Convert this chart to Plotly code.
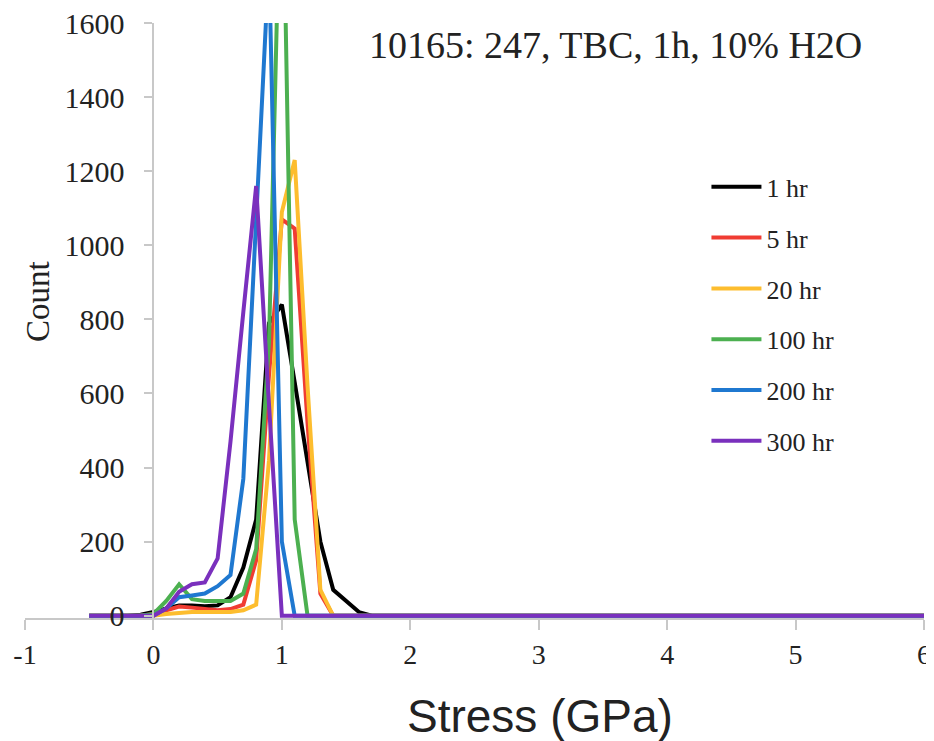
import plotly.graph_objects as go

# Bins de tensão (GPa); o último ponto fecha a linha em zero até 6 GPa
stress = [-0.5, -0.4, -0.3, -0.2, -0.1, 0.0, 0.1, 0.2, 0.3, 0.4, 0.5, 0.6,
          0.7, 0.8, 0.9, 1.0, 1.1, 1.2, 1.3, 1.4, 1.5, 1.6, 1.7, 6.0]

count_1hr = [0, 0, 0, 0, 3, 10, 20, 28, 28, 26, 28, 50,
             130, 260, 790, 840, 630, 420, 200, 70, 40, 10, 0, 0]
count_5hr = [0, 0, 0, 0, 0, 5, 15, 25, 22, 18, 15, 18,
             30, 150, 650, 1070, 1045, 520, 60, 0, 0, 0, 0, 0]
count_20hr = [0, 0, 0, 0, 0, 0, 5, 8, 10, 10, 10, 10,
              15, 30, 420, 1090, 1230, 620, 70, 0, 0, 0, 0, 0]
count_100hr = [0, 0, 0, 0, 0, 5, 40, 85, 45, 40, 40, 40,
               60, 180, 740, 2170, 260, 0, 0, 0, 0, 0, 0, 0]
count_200hr = [0, 0, 0, 0, 0, 0, 20, 50, 55, 60, 80, 110,
               370, 1070, 1770, 200, 0, 0, 0, 0, 0, 0, 0, 0]
count_300hr = [0, 0, 0, 0, 0, 0, 20, 65, 85, 90, 155, 470,
               820, 1160, 570, 0, 0, 0, 0, 0, 0, 0, 0, 0]

x_ticks = [-1, 0, 1, 2, 3, 4, 5, 6]
x_tick_labels = ["-1", "0", "1", "2", "3", "4", "5", "6"]

series = [
    ("1 hr", count_1hr, "#000000"),
    ("5 hr", count_5hr, "#f03c32"),
    ("20 hr", count_20hr, "#fdbd2e"),
    ("100 hr", count_100hr, "#4cb050"),
    ("200 hr", count_200hr, "#1f78d0"),
    ("300 hr", count_300hr, "#7a30bd"),
]

SERIF = "Liberation Serif, Times New Roman, serif"

fig = go.Figure()
for i, (nome, valores, cor) in enumerate(series):
    fig.add_trace(go.Scatter(
        x=stress, y=valores, mode="lines", name=nome,
        legendgroup=f"g{i}",
        line=dict(color=cor, width=4),
    ))

# a página tem margem de 8px no body, por isso a figura é um pouco menor
fig.update_layout(
    width=926, height=733,
    margin=dict(l=17, r=10, t=15, b=123),
    plot_bgcolor="white", paper_bgcolor="white",
    font=dict(family=SERIF, size=26, color="#222"),
    legend=dict(
        x=0.758, y=0.764, xanchor="left", yanchor="top",
        font=dict(family=SERIF, size=26, color="#222"),
        bgcolor="rgba(0,0,0,0)", tracegroupgap=14, itemwidth=50,
    ),
    xaxis=dict(
        range=[-1, 6], tickvals=x_ticks, ticktext=x_tick_labels,
        showgrid=False, zeroline=False, automargin=False,
        ticklabeloverflow="allow",
        showline=True, linecolor="#c8c8c8", linewidth=2,
        ticks="outside", ticklen=10, tickcolor="#c8c8c8", tickwidth=2,
        tickfont=dict(family=SERIF, size=28, color="#222"),
    ),
    yaxis=dict(
        range=[-6, 1600], dtick=200, showgrid=False, zeroline=False,
        anchor="free", position=1 / 7, automargin=False,
        ticklabeloverflow="allow",
        showline=True, linecolor="#c8c8c8", linewidth=2,
        ticks="outside", ticklen=8, tickcolor="#c8c8c8", tickwidth=2,
        tickfont=dict(family=SERIF, size=30, color="#222"),
        ticklabelstandoff=14,
    ),
    annotations=[
        dict(text="10165: 247, TBC, 1h, 10% H2O", xref="paper", yref="paper",
             x=0.657, y=0.963, xanchor="center", yanchor="middle",
             showarrow=False, font=dict(family=SERIF, size=38, color="#222")),
        dict(text="Count", xref="paper", yref="paper", textangle=-90,
             x=0.0145, y=0.531, xanchor="center", yanchor="middle",
             showarrow=False, font=dict(family=SERIF, size=33, color="#222")),
        dict(text="Stress (GPa)", xref="paper", yref="paper",
             x=0.573, y=-0.165, xanchor="center", yanchor="middle",
             showarrow=False,
             font=dict(family="Liberation Sans, Arial, sans-serif", size=46,
                       color="#222")),
    ],
)

fig.write_html("out.html")
